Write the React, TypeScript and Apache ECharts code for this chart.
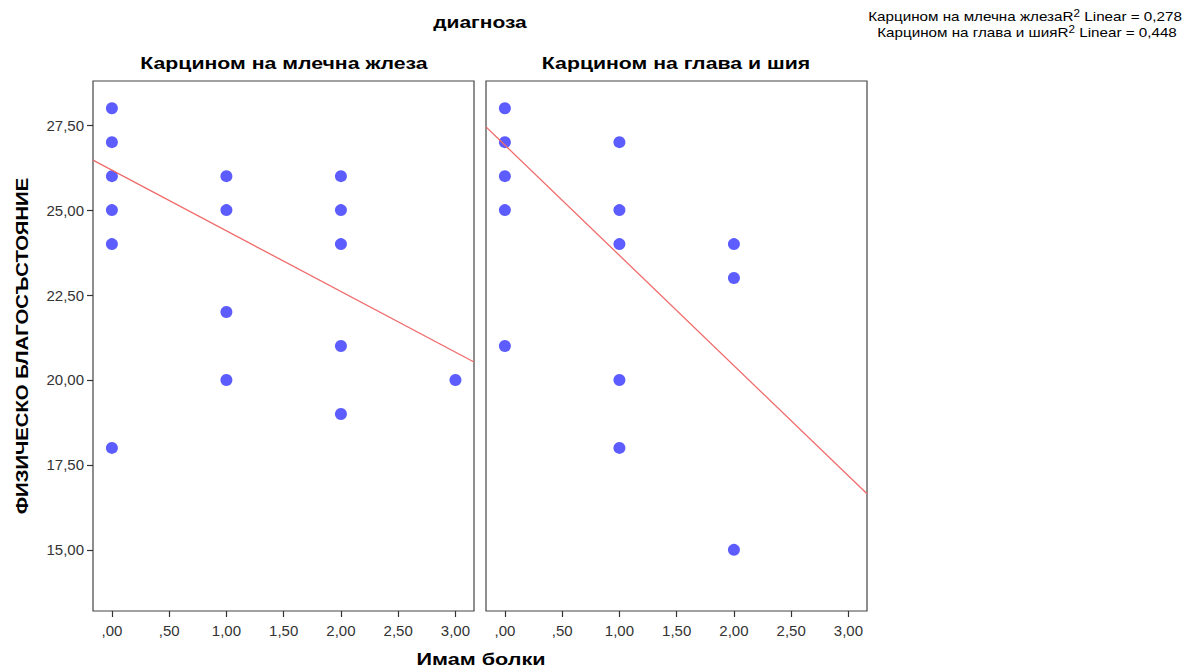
import React, { useEffect, useRef } from "react";
import * as echarts from "echarts";

// ---- data ----
const panelTitles = ["Карцином на млечна жлеза", "Карцином на глава и шия"];
const breastX = [0, 0, 0, 0, 0, 0, 1, 1, 1, 1, 2, 2, 2, 2, 2, 3];
const breastY = [28, 27, 26, 25, 24, 18, 26, 25, 22, 20, 26, 25, 24, 21, 19, 20];
const headX = [0, 0, 0, 0, 0, 1, 1, 1, 1, 1, 2, 2, 2];
const headY = [28, 27, 26, 25, 21, 27, 25, 24, 20, 18, 24, 23, 15];
// fit line end values (at x-axis min / max)
const breastFit = [26.47, 20.53];
const headFit = [27.45, 16.65];
const r2Labels = ["0,278", "0,448"];
const xTicks = [0, 0.5, 1, 1.5, 2, 2.5, 3];
const xTickLabels = [",00", ",50", "1,00", "1,50", "2,00", "2,50", "3,00"];
const yTicks = [15, 17.5, 20, 22.5, 25, 27.5];
const yTickLabels = ["15,00", "17,50", "20,00", "22,50", "25,00", "27,50"];

const X_MIN = -0.165;
const X_MAX = 3.162;
const Y_MIN = 13.2;
const Y_MAX = 28.8;

const FONT = "'Liberation Sans', Arial, sans-serif";
const DOT = "#5c5cff";
const LINE = "#f06a6a";

export default function App() {
  const ref = useRef<HTMLDivElement>(null);
  useEffect(() => {
    if (!ref.current) return;
    const chart = echarts.init(ref.current, undefined, { renderer: "svg" });
    const grids = [
      { left: 93, top: 81, width: 381, height: 530 },
      { left: 486, top: 81, width: 381, height: 530 },
    ].map((g) => ({ ...g, show: true, borderColor: "#444", borderWidth: 1.2, backgroundColor: "#fff" }));

    const xAxes = [0, 1].map((i) => ({
      type: "value",
      gridIndex: i,
      min: X_MIN,
      max: X_MAX,
      axisLine: { show: false, onZero: false },
      splitLine: { show: false },
      axisTick: { show: true, length: 6, lineStyle: { color: "#333", width: 1.2 }, customValues: xTicks },
      axisLabel: {
        show: true,
        customValues: xTicks,
        margin: 12,
        color: "#333",
        fontSize: 15,
        fontFamily: FONT,
        formatter: (v: number) => xTickLabels[xTicks.findIndex((t) => Math.abs(t - v) < 1e-6)] ?? "",
      },
    }));
    const yAxes = [0, 1].map((i) => ({
      type: "value",
      gridIndex: i,
      min: Y_MIN,
      max: Y_MAX,
      axisLine: { show: false, onZero: false },
      splitLine: { show: false },
      axisTick: { show: i === 0, length: 6, lineStyle: { color: "#333", width: 1.2 }, customValues: yTicks },
      axisLabel: {
        show: i === 0,
        customValues: yTicks,
        margin: 9,
        color: "#333",
        fontSize: 15,
        fontFamily: FONT,
        formatter: (v: number) => yTickLabels[yTicks.findIndex((t) => Math.abs(t - v) < 1e-6)] ?? "",
      },
    }));

    const scatter = (xs: number[], ys: number[], i: number) => ({
      type: "scatter",
      xAxisIndex: i,
      yAxisIndex: i,
      symbolSize: 12,
      itemStyle: { color: DOT, opacity: 1 },
      data: xs.map((x, k) => [x, ys[k]]),
      z: 2,
    });
    const fit = (ends: number[], i: number) => ({
      type: "line",
      xAxisIndex: i,
      yAxisIndex: i,
      showSymbol: false,
      symbol: "none",
      lineStyle: { color: LINE, width: 1.3 },
      data: [
        [X_MIN, ends[0]],
        [X_MAX, ends[1]],
      ],
      z: 3,
    });

    const t = (text: string, x: number, y: number, size: number, sx: number, rotation = 0) => ({
      type: "text",
      x,
      y,
      rotation,
      scaleX: sx,
      style: {
        text,
        fill: "#000",
        font: `bold ${size}px ${FONT}`,
        textAlign: "center",
        textVerticalAlign: "middle",
      },
    });

    const legendRich = {
      a: { fontSize: 13, fontFamily: FONT, color: "#000" },
      s: { fontSize: 10, fontFamily: FONT, color: "#000", verticalAlign: "top", padding: [0, 0, 6, 0] },
    };

    chart.setOption({
      animation: false,
      backgroundColor: "#fff",
      grid: grids,
      xAxis: xAxes,
      yAxis: yAxes,
      series: [scatter(breastX, breastY, 0), fit(breastFit, 0), scatter(headX, headY, 1), fit(headFit, 1)],
      graphic: [
        t("диагноза", 480, 22, 16, 1.31),
        t(panelTitles[0], 284, 63, 16, 1.33),
        t(panelTitles[1], 676, 63, 16, 1.33),
        t("Имам болки", 481, 660, 16, 1.35),
        t("ФИЗИЧЕСКО БЛАГОСЪСТОЯНИЕ", 22, 346, 16, 1.27, Math.PI / 2),
        {
          type: "text",
          x: 1025,
          y: 16,
          scaleX: 1.17,
          style: {
            text: `{a|${panelTitles[0]}R}{s|2}{a| Linear = ${r2Labels[0]}}`,
            rich: legendRich,
            textAlign: "center",
            textVerticalAlign: "middle",
          },
        },
        {
          type: "text",
          x: 1027,
          y: 32,
          scaleX: 1.17,
          style: {
            text: `{a|${panelTitles[1]}R}{s|2}{a| Linear = ${r2Labels[1]}}`,
            rich: legendRich,
            textAlign: "center",
            textVerticalAlign: "middle",
          },
        },
      ],
    });
    return () => chart.dispose();
  }, []);
  return <div ref={ref} style={{ width: 1197, height: 671, position: "absolute", left: 0, top: 0 }} />;
}
